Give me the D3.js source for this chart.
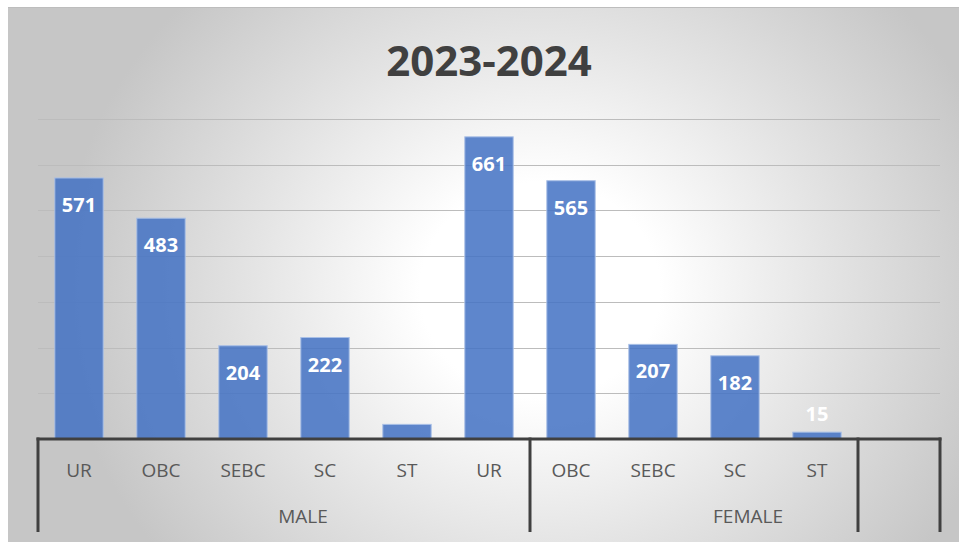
<!DOCTYPE html>
<html>
<head>
<meta charset="utf-8">
<script src="https://cdn.jsdelivr.net/npm/d3@7"></script>
<style>
  html, body { margin: 0; padding: 0; background: #ffffff; }
  svg { display: block; }
  text { font-family: "Open Sans", "Noto Sans", sans-serif; }
</style>
</head>
<body>
<div id="chart"></div>
<script>
(function (d3) {
    "use strict";

    /***** Données *****/

    const title = "2023-2024";
    const categories = ["UR", "OBC", "SEBC", "SC", "ST", "UR", "OBC", "SEBC", "SC", "ST", ""];
    const groupOf = ["MALE", "MALE", "MALE", "MALE", "MALE", "MALE", "FEMALE", "FEMALE", "FEMALE", "FEMALE", ""];
    const values = [571, 483, 204, 222, 32, 661, 565, 207, 182, 15, null];
    const hiddenLabels = [4];          // pas d'étiquette sur le ST masculin
    const yTicks = [0, 100, 200, 300, 400, 500, 600, 700];

    /***** Configuration *****/

    const width = 959, height = 542;
    const plot = { left: 38, right: 940, top: 119, bottom: 439 };
    const groupLabelNudge = { "MALE": 19, "FEMALE": 54, "": 0 };
    const axisColor = "#404040";

    const svg = d3.select("#chart").append("svg")
        .attr("width", width)
        .attr("height", height);

    // fond : dégradé radial elliptique
    const grad = svg.append("defs").append("radialGradient")
        .attr("id", "bg")
        .attr("gradientUnits", "userSpaceOnUse")
        .attr("cx", 0).attr("cy", 0).attr("r", 1)
        .attr("gradientTransform", "translate(540,290) scale(480,430)");
    grad.append("stop").attr("offset", "0%").attr("stop-color", "#ffffff");
    grad.append("stop").attr("offset", "25%").attr("stop-color", "#ffffff");
    grad.append("stop").attr("offset", "60%").attr("stop-color", "#e4e4e4");
    grad.append("stop").attr("offset", "100%").attr("stop-color", "#c6c6c6");

    svg.append("rect")
        .attr("x", 8).attr("y", 7)
        .attr("width", width - 8).attr("height", height - 7)
        .attr("fill", "url(#bg)");
    svg.append("line")
        .attr("x1", 8).attr("x2", width).attr("y1", 7.5).attr("y2", 7.5)
        .attr("stroke", "#bdbdbd").attr("stroke-width", 1);

    /***** Échelles *****/

    const idx = d3.range(categories.length);
    const x = d3.scaleBand()
        .domain(idx)
        .range([plot.left, plot.right])
        .paddingInner(0.41)
        .paddingOuter(0.205);

    const y = d3.scaleLinear()
        .domain([0, d3.max(yTicks)])
        .range([plot.bottom, plot.top]);

    /***** Titre *****/

    svg.append("text")
        .attr("x", (plot.left + plot.right) / 2)
        .attr("y", 76)
        .attr("text-anchor", "middle")
        .attr("font-size", 42)
        .attr("font-weight", "bold")
        .attr("fill", axisColor)
        .text(title);

    /***** Grille *****/

    svg.append("g")
        .selectAll("line")
        .data(yTicks.filter(t => t > 0))
        .join("line")
        .attr("x1", plot.left).attr("x2", plot.right)
        .attr("y1", d => Math.round(y(d)) + 0.5)
        .attr("y2", d => Math.round(y(d)) + 0.5)
        .attr("stroke", "#bcbcbc")
        .attr("stroke-width", 1.2);

    /***** Barres *****/

    const data = idx.filter(i => values[i] != null).map(i => ({ i: i, v: values[i] }));

    svg.append("g")
        .selectAll("rect")
        .data(data)
        .join("rect")
        .attr("x", d => x(d.i))
        .attr("y", d => y(d.v))
        .attr("width", x.bandwidth())
        .attr("height", d => y(0) - y(d.v))
        .attr("fill", "#4472c4")
        .attr("fill-opacity", 0.86)
        .attr("stroke", "#a9bfe6")
        .attr("stroke-width", 1);

    // étiquettes de données (dans la barre, ou au-dessus si trop courte)
    const inside = d => (y(0) - y(d.v)) > 40;
    svg.append("g")
        .selectAll("text")
        .data(data.filter(d => hiddenLabels.indexOf(d.i) < 0))
        .join("text")
        .attr("x", d => x(d.i) + x.bandwidth() / 2)
        .attr("y", d => inside(d) ? y(d.v) + 34 : y(d.v) - 11)
        .attr("text-anchor", "middle")
        .attr("font-size", 20)
        .attr("font-weight", "bold")
        .attr("fill", "#ffffff")
        .text(d => d.v);

    /***** Axe des catégories *****/

    svg.append("line")
        .attr("x1", plot.left - 1.5).attr("x2", plot.right + 1.5)
        .attr("y1", plot.bottom).attr("y2", plot.bottom)
        .attr("stroke", axisColor).attr("stroke-width", 3);

    svg.append("g")
        .selectAll("text")
        .data(idx)
        .join("text")
        .attr("x", i => x(i) + x.bandwidth() / 2)
        .attr("y", 477)
        .attr("text-anchor", "middle")
        .attr("font-size", 19)
        .attr("fill", "#595959")
        .text(i => categories[i]);

    // groupes : séparateurs et libellés
    const groups = [];
    idx.forEach(i => {
        const g = groups.length ? groups[groups.length - 1] : null;
        if (g && g.name === groupOf[i]) g.end = i;
        else groups.push({ name: groupOf[i], start: i, end: i });
    });

    const slotLeft = i => plot.left + i * x.step();
    const dividers = [slotLeft(0)].concat(groups.map(g => slotLeft(g.end + 1)));

    svg.append("g")
        .selectAll("line")
        .data(dividers)
        .join("line")
        .attr("x1", d => d).attr("x2", d => d)
        .attr("y1", plot.bottom - 1.5).attr("y2", 532)
        .attr("stroke", axisColor).attr("stroke-width", 3);

    svg.append("g")
        .selectAll("text")
        .data(groups.filter(g => g.name))
        .join("text")
        .attr("x", g => (slotLeft(g.start) + slotLeft(g.end + 1)) / 2 + groupLabelNudge[g.name])
        .attr("y", 523)
        .attr("text-anchor", "middle")
        .attr("font-size", 19)
        .attr("fill", "#595959")
        .text(g => g.name);

})(d3);
</script>
</body>
</html>
